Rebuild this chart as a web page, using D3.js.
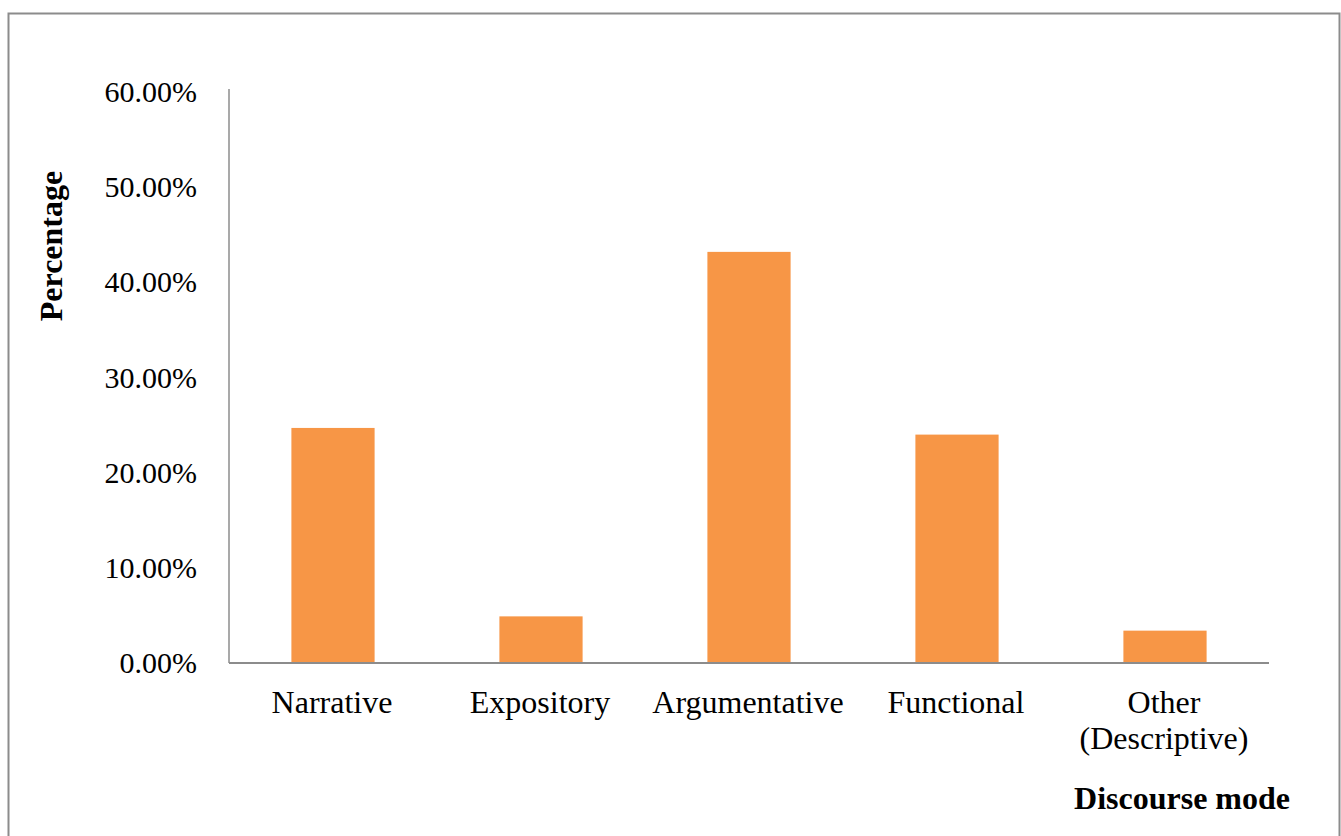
<!DOCTYPE html>
<html>
<head>
<meta charset="utf-8">
<script src="https://cdn.jsdelivr.net/npm/d3@7"></script>
<style>
  html, body { margin: 0; padding: 0; background: #fff; }
  svg { display: block; }
  text { font-family: "Liberation Serif", "Times New Roman", serif; fill: #000; }
</style>
</head>
<body>
<svg id="chart" width="1341" height="836"></svg>
<script>
const categories = ["Narrative", "Expository", "Argumentative", "Functional", "Other (Descriptive)"];
const categoryLines = [["Narrative"], ["Expository"], ["Argumentative"], ["Functional"], ["Other", "(Descriptive)"]];
const values = [0.247, 0.049, 0.432, 0.240, 0.034];
const yTicks = [0, 0.1, 0.2, 0.3, 0.4, 0.5, 0.6];
const yTitle = "Percentage";
const xTitle = "Discourse mode";

const svg = d3.select("#chart");

// outer chart border
svg.append("rect")
  .attr("x", 8.5).attr("y", 13.5)
  .attr("width", 1331).attr("height", 900)
  .attr("fill", "none").attr("stroke", "#8c8c8c").attr("stroke-width", 2);

const mLeft = 229, mRight = 1269, mTop = 92, mBottom = 663;

const x = d3.scaleBand().domain(categories).range([mLeft, mRight]).paddingInner(0.6).paddingOuter(0.3);
const y = d3.scaleLinear().domain([0, 0.6]).range([mBottom, mTop]);

// bars
svg.append("g").selectAll("rect").data(values).join("rect")
  .attr("x", (d, i) => x(categories[i]))
  .attr("width", x.bandwidth())
  .attr("y", d => y(d))
  .attr("height", d => y(0) - y(d))
  .attr("fill", "#F79646");

// y axis
const yAxis = d3.axisLeft(y).tickValues(yTicks).tickSize(0).tickPadding(32)
  .tickFormat(d => (d * 100).toFixed(2) + "%");
const gy = svg.append("g").attr("transform", `translate(${mLeft},0)`).call(yAxis);
gy.select(".domain").attr("stroke", "#8c8c8c").attr("stroke-width", 1.5).attr("d", `M0,${mBottom}V89`);
gy.selectAll("text").style("font-family", '"Liberation Serif", "Times New Roman", serif')
  .style("font-size", "30px").attr("fill", "#000");

// x axis
const xAxis = d3.axisBottom(x).tickSize(0).tickFormat("");
const gx = svg.append("g").attr("transform", `translate(0,${mBottom})`).call(xAxis);
gx.select(".domain").attr("stroke", "#8c8c8c").attr("stroke-width", 2).attr("d", `M${mLeft},0H${mRight}`);

// category labels
const lab = svg.append("g");
categories.forEach((c, i) => {
  const cx = x(c) + x.bandwidth() / 2 - 1;
  const t = lab.append("text")
    .attr("x", cx)
    .attr("y", 713)
    .attr("text-anchor", "middle")
    .style("font-size", "32px");
  categoryLines[i].forEach((ln, j) => {
    t.append("tspan").attr("x", cx).attr("dy", j === 0 ? 0 : 36).text(ln);
  });
});

// axis titles
svg.append("text")
  .attr("transform", "translate(62,246) rotate(-90)")
  .attr("text-anchor", "middle")
  .style("font-size", "32px").style("font-weight", "bold")
  .text(yTitle);

svg.append("text")
  .attr("x", 1290).attr("y", 809)
  .attr("text-anchor", "end")
  .style("font-size", "32px").style("font-weight", "bold")
  .text(xTitle);
</script>
</body>
</html>
